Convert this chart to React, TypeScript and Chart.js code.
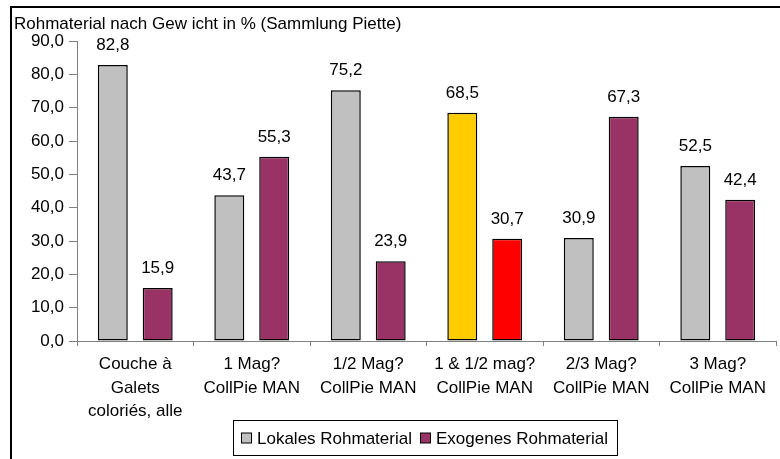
import React, { useEffect, useRef } from "react";
import { Chart, registerables } from "chart.js";

Chart.register(...registerables);

const TITLE = "Rohmaterial nach Gew icht in % (Sammlung Piette)";
const categories: string[][] = [
  ["Couche à", "Galets", "coloriés, alle"],
  ["1 Mag?", "CollPie MAN"],
  ["1/2 Mag?", "CollPie MAN"],
  ["1 & 1/2 mag?", "CollPie MAN"],
  ["2/3 Mag?", "CollPie MAN"],
  ["3 Mag?", "CollPie MAN"],
];
const lokales = [82.8, 43.7, 75.2, 68.5, 30.9, 52.5];
const exogenes = [15.9, 55.3, 23.9, 30.7, 67.3, 42.4];
const lokalesColors = ["#C0C0C0", "#C0C0C0", "#C0C0C0", "#FFCC00", "#C0C0C0", "#C0C0C0"];
const exogenesColors = ["#993366", "#993366", "#993366", "#FF0000", "#993366", "#993366"];
const seriesNames = ["Lokales Rohmaterial", "Exogenes Rohmaterial"];
const legendColors = ["#C0C0C0", "#993366"];

const FONT = "'Liberation Sans', Arial, sans-serif";
const FS = 17;

const fmt = (v: number) => v.toFixed(1).replace(".", ",");

export default function App() {
  const ref = useRef<HTMLCanvasElement | null>(null);

  useEffect(() => {
    document.body.style.margin = "0";
    const canvas = ref.current!;
    const decor = {
      id: "decor",
      beforeDraw(chart: any) {
        const ctx = chart.ctx;
        ctx.save();
        ctx.fillStyle = "#fff";
        ctx.fillRect(0, 0, chart.width, chart.height);
        ctx.strokeStyle = "#000";
        ctx.lineWidth = 2;
        ctx.strokeRect(11, 7, 800, 500);
        ctx.restore();
      },
      afterDraw(chart: any) {
        const ctx = chart.ctx;
        ctx.save();
        // title
        ctx.fillStyle = "#000";
        ctx.font = `${FS}px ${FONT}`;
        ctx.textAlign = "left";
        ctx.textBaseline = "alphabetic";
        ctx.fillText(TITLE, 14, 29);
        // value labels
        ctx.textAlign = "center";
        chart.data.datasets.forEach((ds: any, di: number) => {
          const meta = chart.getDatasetMeta(di);
          meta.data.forEach((bar: any, i: number) => {
            ctx.fillText(fmt(ds.data[i]), bar.x, bar.y - 15);
          });
        });
        // legend
        const lx = 233, ly = 420, lw = 384, lh = 35;
        ctx.lineWidth = 1;
        ctx.strokeStyle = "#000";
        ctx.fillStyle = "#fff";
        ctx.fillRect(lx + 0.5, ly + 0.5, lw, lh);
        ctx.strokeRect(lx + 0.5, ly + 0.5, lw, lh);
        const cy = ly + lh / 2 + 0.5;
        const starts = [241, 420];
        ctx.textAlign = "left";
        ctx.textBaseline = "middle";
        seriesNames.forEach((name, i) => {
          const x = starts[i];
          ctx.fillStyle = legendColors[i];
          ctx.fillRect(x + 0.5, cy - 5, 10, 10);
          ctx.strokeRect(x + 0.5, cy - 5, 10, 10);
          ctx.fillStyle = "#000";
          ctx.fillText(name, x + 16, cy + 1);
        });
        ctx.restore();
      },
    };

    const chart = new Chart(canvas, {
      type: "bar",
      data: {
        labels: categories,
        datasets: [
          {
            label: seriesNames[0],
            data: lokales,
            backgroundColor: lokalesColors,
            borderColor: "#000",
            borderWidth: 1.5,
            borderSkipped: false,
            categoryPercentage: 0.771,
            barPercentage: 0.667,
          },
          {
            label: seriesNames[1],
            data: exogenes,
            backgroundColor: exogenesColors,
            borderColor: "#000",
            borderWidth: 1.5,
            borderSkipped: false,
            categoryPercentage: 0.771,
            barPercentage: 0.667,
          },
        ],
      },
      options: {
        responsive: false,
        animation: false,
        layout: { padding: { top: 41, right: 4, left: 0, bottom: 0 } },
        plugins: {
          legend: { display: false },
          title: { display: false },
          tooltip: { enabled: false },
        },
        scales: {
          x: {
            grid: {
              display: true,
              drawOnChartArea: false,
              offset: true,
              tickLength: 5,
              color: "#808080",
            },
            border: { color: "#808080", width: 1 },
            ticks: {
              color: "#000",
              font: { family: FONT, size: FS, lineHeight: 1.38 },
              maxRotation: 0,
              autoSkip: false,
              padding: 7,
            },
            afterFit(scale: any) {
              scale.height = 118;
            },
          },
          y: {
            min: 0,
            max: 90,
            grid: {
              display: true,
              drawOnChartArea: false,
              tickLength: 8,
              color: "#808080",
            },
            border: { color: "#808080", width: 1 },
            ticks: {
              stepSize: 10,
              color: "#000",
              font: { family: FONT, size: FS },
              padding: 5,
              callback: (v: any) => fmt(Number(v)),
            },
            afterFit(scale: any) {
              scale.width = 77;
            },
          },
        },
      },
      plugins: [decor],
    });
    return () => chart.destroy();
  }, []);

  return (
    <div style={{ width: 780, height: 459 }}>
      <canvas ref={ref} width={780} height={459} style={{ display: "block" }} />
    </div>
  );
}
